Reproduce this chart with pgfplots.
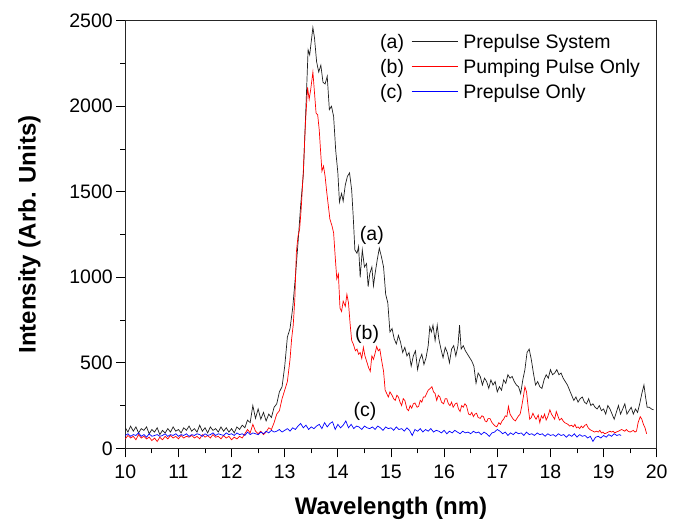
\documentclass[border=0pt]{standalone}
\usepackage{fontspec}
\setmainfont{Liberation Sans}
\usepackage{pgfplots}
\pgfplotsset{compat=1.18}
\usepackage{pgfplotstable}
\definecolor{cA}{RGB}{30,30,30}
\definecolor{cB}{RGB}{255,0,0}
\definecolor{cC}{RGB}{0,0,255}

\pgfplotstableread{
x y
10.00 120
10.05 95
10.10 130
10.15 100
10.20 125
10.25 90
10.30 115
10.35 105
10.40 125
10.45 85
10.50 110
10.55 95
10.60 120
10.65 80
10.70 105
10.75 90
10.80 115
10.85 95
10.90 125
10.95 100
11.00 110
11.05 90
11.10 120
11.15 105
11.20 130
11.25 100
11.30 115
11.35 95
11.40 135
11.45 100
11.50 120
11.55 90
11.60 125
11.65 105
11.70 115
11.75 95
11.80 125
11.85 100
11.90 120
11.95 95
12.00 115
12.05 90
12.10 125
12.15 110
12.20 135
12.25 120
12.30 165
12.35 150
12.40 250
12.45 175
12.50 230
12.55 170
12.60 210
12.65 160
12.70 200
12.75 180
12.80 240
12.85 260
12.90 330
12.95 360
13.00 480
13.05 650
13.10 700
13.15 820
13.20 1000
13.25 1200
13.30 1420
13.35 1600
13.40 2000
13.44 2330
13.47 2300
13.50 2380
13.53 2460
13.56 2400
13.60 2260
13.64 2200
13.68 2240
13.72 2140
13.76 2130
13.80 2175
13.84 1980
13.88 2000
13.92 1940
13.96 1740
14.00 1610
14.03 1440
14.07 1490
14.10 1445
14.14 1540
14.18 1590
14.22 1610
14.26 1510
14.29 1350
14.32 1160
14.36 1140
14.39 1180
14.42 1000
14.46 1160
14.50 1060
14.54 1080
14.57 945
14.60 1020
14.64 1060
14.67 950
14.70 1020
14.74 1100
14.78 1170
14.82 1120
14.86 1060
14.90 900
14.94 850
14.98 680
15.02 700
15.06 640
15.10 610
15.14 660
15.18 620
15.22 560
15.26 590
15.30 540
15.34 560
15.38 480
15.42 540
15.46 570
15.50 460
15.54 520
15.58 550
15.62 490
15.66 530
15.70 600
15.73 710
15.76 680
15.79 720
15.83 630
15.87 720
15.90 640
15.94 580
15.98 530
16.02 590
16.06 560
16.10 500
16.14 580
16.18 600
16.22 540
16.26 600
16.29 720
16.32 580
16.36 600
16.40 570
16.44 550
16.48 530
16.52 510
16.56 480
16.60 380
16.64 440
16.68 420
16.72 370
16.76 410
16.80 390
16.84 350
16.88 400
16.92 370
16.96 390
17.00 330
17.04 360
17.08 340
17.12 400
17.16 380
17.20 430
17.24 410
17.28 420
17.32 390
17.36 370
17.40 360
17.44 320
17.48 400
17.52 460
17.56 560
17.60 580
17.64 520
17.68 440
17.72 370
17.76 390
17.80 360
17.84 350
17.88 400
17.92 430
17.96 410
18.00 460
18.04 430
18.08 440
18.12 460
18.16 430
18.20 440
18.24 410
18.28 390
18.32 370
18.36 340
18.40 310
18.44 280
18.48 300
18.52 270
18.56 290
18.60 300
18.64 270
18.68 260
18.72 290
18.76 250
18.80 260
18.84 240
18.88 230
18.92 250
18.96 220
19.00 230
19.04 200
19.08 250
19.12 230
19.16 200
19.20 170
19.24 210
19.28 250
19.32 200
19.36 230
19.40 260
19.44 200
19.48 220
19.52 240
19.56 200
19.60 230
19.64 210
19.68 260
19.72 320
19.76 370
19.79 300
19.82 240
19.86 240
19.90 230
19.94 225
}\seriesA

\pgfplotstableread{
x y
10.00 55
10.05 75
10.10 60
10.15 70
10.20 50
10.25 80
10.30 60
10.35 70
10.40 55
10.45 65
10.50 45
10.55 60
10.60 40
10.65 65
10.70 50
10.75 70
10.80 55
10.85 75
10.90 60
10.95 70
11.00 55
11.05 75
11.10 60
11.15 70
11.20 65
11.25 75
11.30 60
11.35 70
11.40 55
11.45 80
11.50 65
11.55 75
11.60 60
11.65 80
11.70 65
11.75 70
11.80 55
11.85 75
11.90 60
11.95 70
12.00 50
12.05 65
12.10 55
12.15 70
12.20 60
12.25 85
12.30 110
12.35 90
12.40 140
12.45 100
12.50 85
12.55 100
12.60 80
12.65 95
12.70 120
12.75 110
12.80 150
12.85 200
12.90 220
12.95 290
13.00 340
13.05 390
13.10 520
13.13 640
13.16 720
13.19 870
13.22 1150
13.25 1240
13.28 1280
13.31 1400
13.35 1620
13.39 1900
13.43 2110
13.46 2040
13.49 2100
13.53 2200
13.56 2080
13.59 1960
13.62 1950
13.65 1860
13.67 1760
13.70 1620
13.73 1650
13.76 1590
13.79 1500
13.82 1420
13.85 1340
13.89 1300
13.92 1260
13.95 1120
13.98 990
14.01 1020
14.04 820
14.07 800
14.10 860
14.14 830
14.17 900
14.20 850
14.23 730
14.26 630
14.29 610
14.33 570
14.36 580
14.39 550
14.42 560
14.45 525
14.48 590
14.51 540
14.54 510
14.58 470
14.61 450
14.64 540
14.67 520
14.70 555
14.73 595
14.76 570
14.79 580
14.82 520
14.86 450
14.89 340
14.92 320
14.95 300
14.98 330
15.02 310
15.05 290
15.08 280
15.11 310
15.14 300
15.17 270
15.20 250
15.23 290
15.26 280
15.30 230
15.33 220
15.36 250
15.39 235
15.42 260
15.45 265
15.49 240
15.52 245
15.55 280
15.58 270
15.61 300
15.64 300
15.67 320
15.70 340
15.74 350
15.77 360
15.80 330
15.83 320
15.86 280
15.89 310
15.92 300
15.95 270
15.99 260
16.02 290
16.05 290
16.08 260
16.11 250
16.14 270
16.17 240
16.21 260
16.24 265
16.27 230
16.30 215
16.33 250
16.36 240
16.39 260
16.42 250
16.46 200
16.49 195
16.52 210
16.55 185
16.58 200
16.61 205
16.64 180
16.68 175
16.71 190
16.74 185
16.77 160
16.80 155
16.83 175
16.86 175
16.90 150
16.93 140
16.96 130
16.99 126
17.03 150
17.06 140
17.09 160
17.12 170
17.15 190
17.18 185
17.21 245
17.24 200
17.27 185
17.30 170
17.34 160
17.37 175
17.40 190
17.43 200
17.46 245
17.49 300
17.52 360
17.55 330
17.58 245
17.61 170
17.64 180
17.67 205
17.70 185
17.73 170
17.77 195
17.80 150
17.83 190
17.86 175
17.89 200
17.92 165
17.95 185
17.99 225
18.02 200
18.05 185
18.08 170
18.11 215
18.14 190
18.17 165
18.21 175
18.24 160
18.27 150
18.30 145
18.33 140
18.36 130
18.40 135
18.43 125
18.46 140
18.49 120
18.52 125
18.55 115
18.58 130
18.61 120
18.65 135
18.68 140
18.71 120
18.74 110
18.77 105
18.80 100
18.83 95
18.87 100
18.90 95
18.93 105
18.96 90
18.99 95
19.02 85
19.06 90
19.09 95
19.12 100
19.15 95
19.18 100
19.21 90
19.24 95
19.28 100
19.31 105
19.34 110
19.37 105
19.40 100
19.43 110
19.46 100
19.50 95
19.53 100
19.56 105
19.59 95
19.62 100
19.65 150
19.69 185
19.72 170
19.75 140
19.78 120
19.81 85
}\seriesB

\pgfplotstableread{
x y
10.00 75
10.05 85
10.10 70
10.15 80
10.20 75
10.25 90
10.30 70
10.35 80
10.40 65
10.45 85
10.50 70
10.55 75
10.60 80
10.65 70
10.70 75
10.75 85
10.80 70
10.85 80
10.90 75
10.95 85
11.00 70
11.05 80
11.10 75
11.15 85
11.20 70
11.25 80
11.30 75
11.35 85
11.40 80
11.45 70
11.50 85
11.55 75
11.60 80
11.65 90
11.70 75
11.75 85
11.80 80
11.85 75
11.90 90
11.95 80
12.00 85
12.05 75
12.10 90
12.15 80
12.20 85
12.25 75
12.30 95
12.35 80
12.40 90
12.45 85
12.50 80
12.55 95
12.60 85
12.65 100
12.70 90
12.75 105
12.80 95
12.85 100
12.90 110
12.95 95
13.00 105
13.05 115
13.10 100
13.15 120
13.20 110
13.25 130
13.30 145
13.35 120
13.40 135
13.45 110
13.50 125
13.55 115
13.60 130
13.65 140
13.70 115
13.75 150
13.80 125
13.85 145
13.90 155
13.95 110
14.00 140
14.05 120
14.10 135
14.15 160
14.20 120
14.25 140
14.30 115
14.35 130
14.40 125
14.45 110
14.50 130
14.55 120
14.60 115
14.65 125
14.70 110
14.75 130
14.80 120
14.85 105
14.90 125
14.95 115
15.00 120
15.05 105
15.10 125
15.15 110
15.20 115
15.25 100
15.30 120
15.35 105
15.40 75
15.45 110
15.50 100
15.55 115
15.60 95
15.65 110
15.70 100
15.75 115
15.80 95
15.85 105
15.90 100
15.95 90
16.00 105
16.05 85
16.10 100
16.15 90
16.20 105
16.25 95
16.30 85
16.35 100
16.40 90
16.45 95
16.50 85
16.55 100
16.60 90
16.65 95
16.70 80
16.75 95
16.80 85
16.85 70
16.90 90
16.95 95
17.00 110
17.05 100
17.10 85
17.15 95
17.20 75
17.25 90
17.30 80
17.35 95
17.40 85
17.45 90
17.50 75
17.55 95
17.60 80
17.65 85
17.70 75
17.75 90
17.80 80
17.85 85
17.90 70
17.95 85
18.00 75
18.05 80
18.10 70
18.15 85
18.20 75
18.25 80
18.30 65
18.35 80
18.40 70
18.45 85
18.50 65
18.55 80
18.60 70
18.65 75
18.70 60
18.75 70
18.80 40
18.85 65
18.90 70
18.95 60
19.00 75
19.05 65
19.10 80
19.15 70
19.20 85
19.25 75
19.30 80
19.33 75
}\seriesC

\begin{document}
\begin{tikzpicture}
\begin{axis}[
  name=ax,
  width=531.4bp, height=427.6bp, scale only axis,
  xmin=10, xmax=20, ymin=0, ymax=2500,
  xtick={10,11,...,20}, ytick={0,500,...,2500},
  minor x tick num=1, minor y tick num=1,
  tick pos=left, tick align=outside,
  major tick length=9bp, minor tick length=5bp,
  every tick/.style={black, line width=0.9bp},
  axis line style={line width=1.1bp, black!85},
  scaled ticks=false,
  /pgf/number format/assume math mode=true,
  /pgf/number format/1000 sep={},
  tick label style={font=\fontsize{19.5bp}{23bp}\selectfont},
  xticklabel style={yshift=-4bp},
  xlabel={\textbf{Wavelength (nm)}},
  ylabel={\textbf{Intensity (Arb. Units)}},
  xlabel shift=12bp,
  ylabel shift=22bp,
  label style={font=\fontsize{24bp}{28bp}\selectfont},
  clip=false,
]
\addplot[cA, line width=0.7bp] table[x=x,y=y] {\seriesA};
\addplot[cB, line width=0.7bp] table[x=x,y=y] {\seriesB};
\addplot[cC, line width=0.7bp] table[x=x,y=y] {\seriesC};
% legend sample lines
\addplot[cA, line width=1bp] coordinates {(15.389,2377) (16.266,2377)};
\addplot[cB, line width=1bp] coordinates {(15.389,2233.5) (16.266,2233.5)};
\addplot[cC, line width=1bp] coordinates {(15.389,2085) (16.266,2085)};
% legend texts
\begin{scope}[every node/.style={font=\fontsize{19.5bp}{23bp}\selectfont, inner sep=0pt, anchor=base west}]
\node at (axis description cs:0.4793,0.9345) {(a)};
\node at (axis description cs:0.6356,0.9345) {Prepulse System};
\node at (axis description cs:0.4793,0.8770) {(b)};
\node at (axis description cs:0.6356,0.8770) {Pumping Pulse Only};
\node at (axis description cs:0.4793,0.8176) {(c)};
\node at (axis description cs:0.6356,0.8176) {Prepulse Only};
\end{scope}
\node[font=\fontsize{19.5bp}{23bp}\selectfont] at (axis cs:14.64,1247) {(a)};
\node[font=\fontsize{19.5bp}{23bp}\selectfont] at (axis cs:14.55,668) {(b)};
\node[font=\fontsize{19.5bp}{23bp}\selectfont] at (axis cs:14.51,214) {(c)};
\end{axis}
\pgfresetboundingbox
\path ([shift={(-125.3bp,-72.7bp)}]ax.south west) rectangle ([shift={(22.3bp,20.7bp)}]ax.north east);
\end{tikzpicture}
\end{document}
